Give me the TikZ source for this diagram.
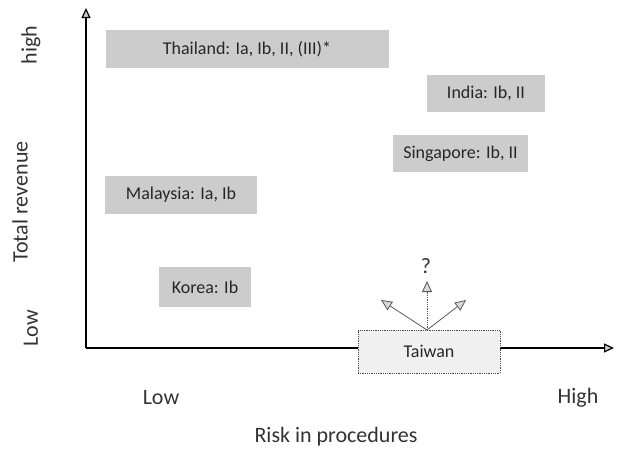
\documentclass[tikz,border=0pt]{standalone}
\usepackage{fontspec}
\setmainfont{Carlito}
\usetikzlibrary{arrows.meta}
\begin{document}
\begin{tikzpicture}[x=1pt,y=-1pt,
  country/.style={fill=gray!40, inner sep=0pt, font=\fontsize{18}{20}\selectfont, text=black!85},
  axislab/.style={font=\fontsize{22}{24}\selectfont, text=black!80},
  axisline/.style={line width=1.2pt, -{Triangle[length=10pt,width=9pt,fill=gray!40]}},
  move/.style={draw=gray!70!black, line width=0.8pt, -{Triangle[length=11pt,width=10pt,fill=gray!30]}}
]
\useasboundingbox (0,0) rectangle (624,450);
% axes
\coordinate (O) at (86,348);
\coordinate (Ytip) at (86,8);
\coordinate (Xtip) at (614,348);
\draw[axisline] (O) -- (Ytip);
\draw[axisline] (O) -- (Xtip);
% axis labels
\node[axislab, rotate=90] (yhigh) at (31,45) {high};
\node[axislab, rotate=90] (ytitle) at (20,202) {Total revenue};
\node[axislab, rotate=90] (ylow) at (31,328) {Low};
\node[axislab] (xlow) at (161,398) {Low};
\node[axislab] (xhigh) at (578,398) {High};
\node[axislab] (xtitle) at (336,437) {Risk in procedures};
% country boxes
\node[country, minimum width=283pt, minimum height=38pt] (th) at (247,49) {Thailand: Ia, Ib, II, (III)*};
\node[country, minimum width=118pt, minimum height=37pt] (in) at (486,93.5) {India: Ib, II};
\node[country, minimum width=135pt, minimum height=37pt] (sg) at (460.5,153.5) {Singapore: Ib, II};
\node[country, minimum width=152pt, minimum height=38pt] (my) at (181,195) {Malaysia: Ia, Ib};
\node[country, minimum width=92pt, minimum height=40pt] (kr) at (205,287) {Korea: Ib};
% Taiwan
\node[draw=gray!60!black, densely dotted, line width=0.8pt, fill=gray!12, inner sep=0pt,
      minimum width=142pt, minimum height=43pt, font=\fontsize{18}{20}\selectfont, text=black!85] (tw) at (429,351.5) {Taiwan};
\coordinate (src) at (427,330);
\coordinate (upL) at (381,300);
\coordinate (upR) at (466,300);
\coordinate (up) at (427,281);
\draw[move] (src) -- (upL);
\draw[move] (src) -- (upR);
\draw[move, densely dotted] (src) -- (up);
\node[font=\fontsize{22}{24}\selectfont, text=black!80] (q) at (426,266) {?};
\end{tikzpicture}
\end{document}
